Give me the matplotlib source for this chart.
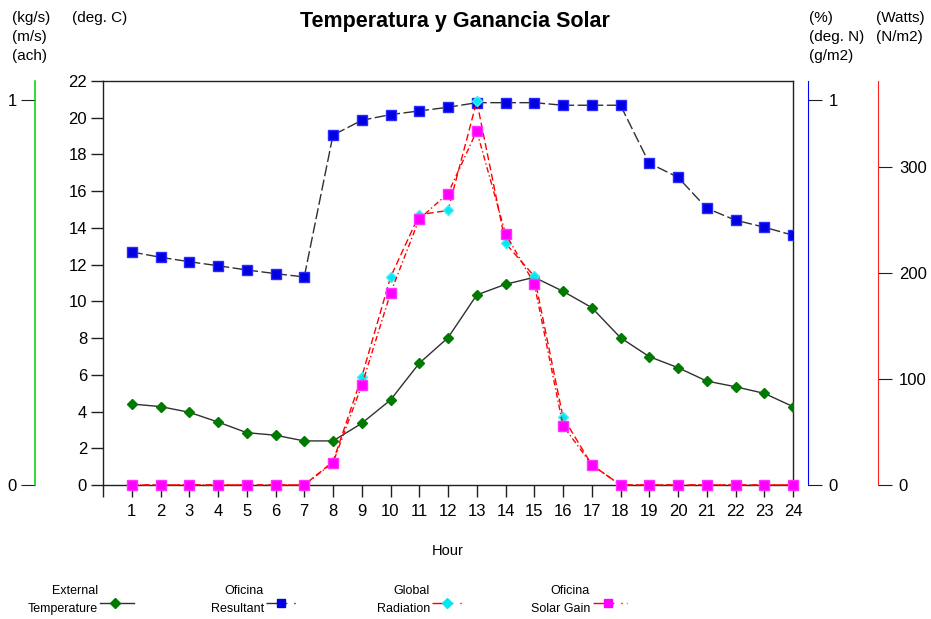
import matplotlib
matplotlib.use("Agg")
import matplotlib.pyplot as plt
from matplotlib.lines import Line2D

plt.rcParams['font.family'] = ['Liberation Sans', 'DejaVu Sans']

# ---- data -------------------------------------------------------------
hours = list(range(1, 25))
external_temp = [4.41, 4.27, 3.96, 3.43, 2.85, 2.71, 2.40, 2.40, 3.36, 4.63,
                 6.63, 8.02, 10.35, 10.93, 11.31, 10.55, 9.66, 8.02, 6.99, 6.39,
                 5.66, 5.35, 4.99, 4.27]
oficina_resultant = [12.69, 12.40, 12.16, 11.94, 11.71, 11.51, 11.33, 19.05, 19.86, 20.17,
                     20.37, 20.57, 20.82, 20.82, 20.82, 20.68, 20.68, 20.68, 17.52, 16.76,
                     15.07, 14.42, 14.04, 13.60]
global_radiation = [0, 0, 0, 0, 0, 0, 0, 22, 102, 196,
                    255, 259, 362, 228, 197, 64, 19, 0, 0, 0,
                    0, 0, 0, 0]
solar_gain = [0, 0, 0, 0, 0, 0, 0, 21, 94, 181,
              251, 275, 334, 237, 190, 56, 19, 0, 0, 0,
              0, 0, 0, 0]
legend_labels = ["External\nTemperature", "Oficina\nResultant",
                 "Global\nRadiation", "Oficina\nSolar Gain"]

W, H = 931, 619
fig = plt.figure(figsize=(W / 100, H / 100), dpi=100)


def fx(x):
    return x / W


def fy(y):
    return 1 - y / H


L, R, T, B = 103, 793, 81, 485
ax = fig.add_axes([fx(L), fy(B), fx(R - L), (B - T) / H])

line_col = '#303030'
res_dash = (0, (8, 2.5))
rad_dash = (0, (5, 2.5))
gain_dash = (0, (4, 2, 1, 2))
tick_fs = 12

# main axis (deg. C)
ax.plot(hours, external_temp, color=line_col, lw=1, marker='D', ms=5.5,
        mfc='#007a00', mec='#007a00', zorder=3)
ax.plot(hours, oficina_resultant, color=line_col, lw=1, ls=res_dash, marker='s', ms=6.5,
        mfc='#0000e0', mec='#2a2aff', zorder=3)
ax.set_xlim(0, 24)
ax.set_ylim(0, 22)
ax.set_xticks(range(0, 25))
ax.set_xticklabels([''] + [str(h) for h in hours])
ax.set_yticks(range(0, 23, 2))
ax.tick_params(axis='both', direction='out', length=8.5, width=1, labelsize=tick_fs,
               color='#202020')
ax.tick_params(axis='x', pad=5)
ax.tick_params(axis='y', pad=3)
for s in ax.spines.values():
    s.set_color('#202020')
    s.set_linewidth(1)
ax.set_xlabel('Hour', fontsize=10.5, labelpad=18)

# green secondary axis (kg/s, m/s, ach)
ax_g = ax.twinx()
ax_g.set_ylim(0, 404 / 385)
for k in ('top', 'bottom', 'right'):
    ax_g.spines[k].set_visible(False)
ax_g.spines['left'].set_visible(True)
ax_g.spines['left'].set_position(('axes', (35 - L) / (R - L)))
ax_g.spines['left'].set_color('#00d000')
ax_g.spines['left'].set_linewidth(1.1)
ax_g.yaxis.set_ticks_position('left')
ax_g.yaxis.set_label_position('left')
ax_g.set_yticks([0, 1])
ax_g.tick_params(axis='y', direction='out', length=10, color='#202020',
                 labelsize=tick_fs, pad=3)

# blue secondary axis (%, deg. N, g/m2)
ax_b = ax.twinx()
ax_b.set_ylim(0, 404 / 385)
for k in ('top', 'bottom', 'left'):
    ax_b.spines[k].set_visible(False)
ax_b.spines['right'].set_position(('axes', (808 - L) / (R - L)))
ax_b.spines['right'].set_color('#0000ff')
ax_b.set_yticks([0, 1])
ax_b.tick_params(axis='y', direction='out', length=10, color='#202020',
                 labelsize=tick_fs, pad=5)

# red secondary axis (Watts, N/m2) carrying radiation and solar gain
ax_r = ax.twinx()
ax_r.set_ylim(0, 404 / 1.06)
for k in ('top', 'bottom', 'left'):
    ax_r.spines[k].set_visible(False)
ax_r.spines['right'].set_position(('axes', (878 - L) / (R - L)))
ax_r.spines['right'].set_color('#ff2020')
ax_r.set_yticks([0, 100, 200, 300])
ax_r.tick_params(axis='y', direction='out', length=10, color='#202020',
                 labelsize=tick_fs, pad=5)
ax_r.plot(hours, global_radiation, color='#ff0000', lw=1, ls=rad_dash, marker='D', ms=5.5,
          mfc='#00e8f0', mec='#40f0f8', zorder=3, clip_on=False)
ax_r.plot(hours, solar_gain, color='#ff0000', lw=1, ls=gain_dash, marker='s', ms=6.5,
          mfc='#ff00ff', mec='#ff30ff', zorder=4, clip_on=False)

# title and unit captions
fig.text(fx(455), fy(21), 'Temperatura y Ganancia Solar', ha='center', va='center',
         fontsize=15.5, fontweight='bold')
unit_kw = dict(fontsize=11, va='top', ha='left', linespacing=1.45)
fig.text(fx(12), fy(11), '(kg/s)\n(m/s)\n(ach)', **unit_kw)
fig.text(fx(72), fy(11), '(deg. C)', **unit_kw)
fig.text(fx(809), fy(11), '(%)\n(deg. N)\n(g/m2)', **unit_kw)
fig.text(fx(876), fy(11), '(Watts)\n(N/m2)', **unit_kw)

# legend row along the bottom: two-line captions, each line placed on its own row
leg_items = [
    (98, 100, 134, line_col, '-', 'D', '#007a00', 5),
    (264, 266, 300, line_col, (0, (15, 5, 1, 5)), 's', '#0000e0', 6),
    (430, 432, 466, '#ff0000', (0, (15, 5, 1, 5)), 'D', '#00e8f0', 5),
    (590, 593, 627, '#ff0000', (0, (15, 5, 1, 3, 3, 3)), 's', '#ff00ff', 6),
]
for label, (tx, x0, x1, lc, ls, mk, mc, ms) in zip(legend_labels, leg_items):
    top_line, bottom_line = label.split('\n')
    fig.text(fx(tx), fy(591), top_line, ha='right', va='center', fontsize=9)
    fig.text(fx(tx), fy(609), bottom_line, ha='right', va='center', fontsize=9)
    fig.add_artist(Line2D([fx(x0), fx(x1)], [fy(603), fy(603)], transform=fig.transFigure,
                          color=lc, lw=1, ls=ls))
    xm = x0 + 0.45 * (x1 - x0)
    fig.add_artist(Line2D([fx(xm)], [fy(603)], transform=fig.transFigure, marker=mk,
                          ms=ms, mfc=mc, mec=mc, ls='none'))

fig.savefig('out.png', dpi=100)
